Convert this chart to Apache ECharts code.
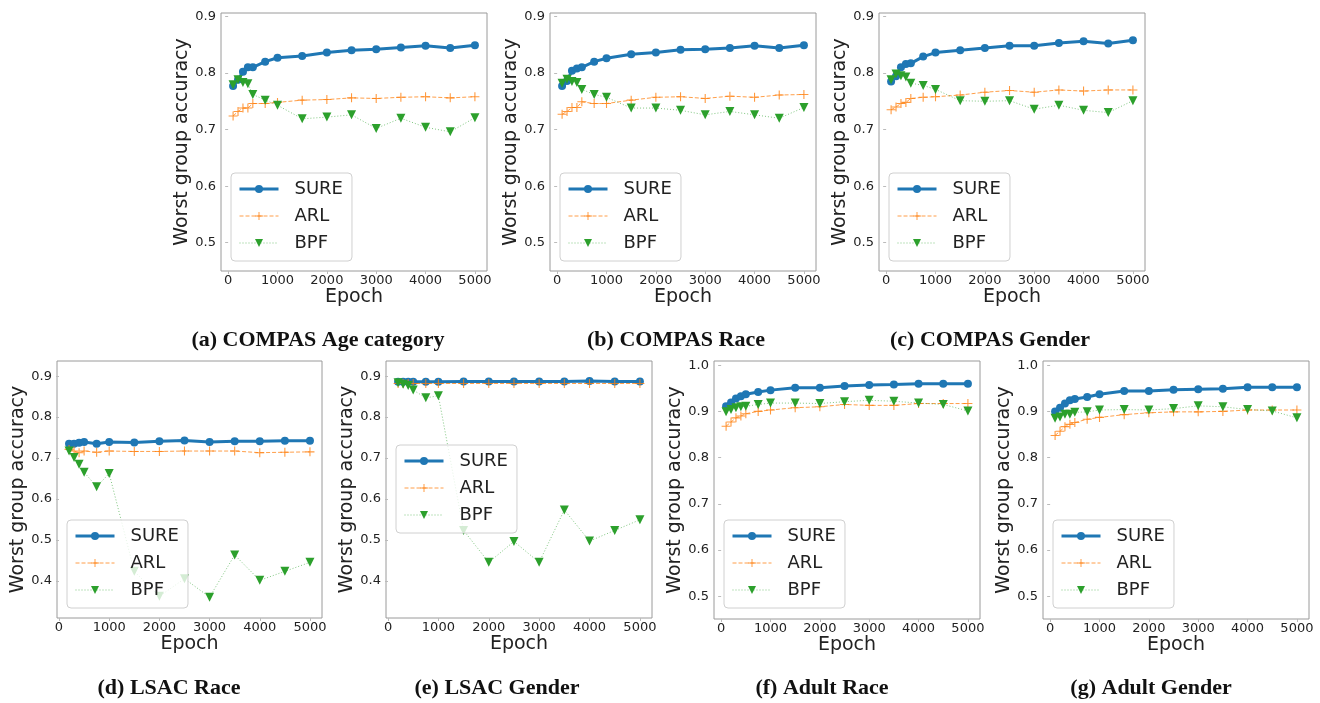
<!DOCTYPE html>
<html>
<head>
<meta charset="utf-8">
<script src="https://cdn.jsdelivr.net/npm/echarts@6/dist/echarts.min.js"></script>
<style>
  html, body { margin: 0; padding: 0; background: #fff; }
  #main { width: 1320px; height: 703px; }
</style>
</head>
<body>
<div id="main"></div>
<script>
// epochs
const epochsFrom100 = [100, 200, 300, 400, 500, 750, 1000, 1500, 2000, 2500, 3000, 3500, 4000, 4500, 5000];
const epochsFrom200 = [200, 300, 400, 500, 750, 1000, 1500, 2000, 2500, 3000, 3500, 4000, 4500, 5000];

// tick labels
const xTicks = [0, 1000, 2000, 3000, 4000, 5000];
const yTicksCompas = [0.5, 0.6, 0.7, 0.8, 0.9];
const yTicksLsac = [0.4, 0.5, 0.6, 0.7, 0.8, 0.9];
const yTicksAdult = [0.5, 0.6, 0.7, 0.8, 0.9, 1.0];

// (a) COMPAS Age category
const sureAge = [0.777, 0.788, 0.802, 0.810, 0.810, 0.820, 0.827, 0.830, 0.836, 0.840, 0.842, 0.845, 0.848, 0.844, 0.849];
const arlAge  = [0.724, 0.732, 0.738, 0.738, 0.746, 0.746, 0.748, 0.752, 0.753, 0.756, 0.755, 0.757, 0.758, 0.756, 0.758];
const bpfAge  = [0.779, 0.788, 0.783, 0.781, 0.762, 0.752, 0.743, 0.719, 0.722, 0.726, 0.702, 0.720, 0.704, 0.696, 0.721];

// (b) COMPAS Race
const sureRace = [0.777, 0.786, 0.804, 0.808, 0.810, 0.820, 0.826, 0.833, 0.836, 0.841, 0.842, 0.844, 0.848, 0.844, 0.849];
const arlRace  = [0.727, 0.732, 0.739, 0.739, 0.749, 0.746, 0.746, 0.752, 0.757, 0.758, 0.755, 0.759, 0.757, 0.761, 0.762];
const bpfRace  = [0.782, 0.789, 0.785, 0.783, 0.771, 0.762, 0.757, 0.738, 0.738, 0.734, 0.726, 0.732, 0.726, 0.720, 0.739];

// (c) COMPAS Gender
const sureGender = [0.785, 0.794, 0.810, 0.816, 0.817, 0.829, 0.836, 0.840, 0.844, 0.848, 0.848, 0.853, 0.856, 0.852, 0.858];
const arlGender  = [0.735, 0.740, 0.746, 0.748, 0.755, 0.757, 0.758, 0.761, 0.766, 0.769, 0.766, 0.770, 0.768, 0.770, 0.770];
const bpfGender  = [0.788, 0.798, 0.795, 0.793, 0.782, 0.778, 0.771, 0.751, 0.750, 0.751, 0.736, 0.743, 0.734, 0.730, 0.751];

// (d) LSAC Race
const sureLsacRace = [0.735, 0.735, 0.737, 0.739, 0.735, 0.739, 0.738, 0.741, 0.743, 0.739, 0.741, 0.741, 0.742, 0.742];
const arlLsacRace  = [0.721, 0.717, 0.713, 0.717, 0.714, 0.717, 0.716, 0.716, 0.717, 0.717, 0.717, 0.713, 0.714, 0.715];
const bpfLsacRace  = [0.717, 0.701, 0.685, 0.665, 0.630, 0.662, 0.423, 0.362, 0.405, 0.360, 0.463, 0.401, 0.423, 0.445];

// (e) LSAC Gender
const sureLsacGender = [0.886, 0.886, 0.886, 0.886, 0.886, 0.886, 0.887, 0.887, 0.887, 0.887, 0.887, 0.888, 0.887, 0.887];
const arlLsacGender  = [0.882, 0.882, 0.882, 0.882, 0.882, 0.882, 0.882, 0.882, 0.882, 0.882, 0.882, 0.882, 0.882, 0.882];
const bpfLsacGender  = [0.884, 0.880, 0.877, 0.866, 0.847, 0.852, 0.523, 0.445, 0.496, 0.445, 0.573, 0.497, 0.523, 0.549];

// (f) Adult Race
const sureAdultRace = [0.911, 0.919, 0.928, 0.933, 0.937, 0.942, 0.946, 0.951, 0.951, 0.955, 0.957, 0.958, 0.960, 0.960, 0.960];
const arlAdultRace  = [0.868, 0.877, 0.886, 0.890, 0.895, 0.900, 0.903, 0.908, 0.910, 0.915, 0.913, 0.913, 0.917, 0.917, 0.917];
const bpfAdultRace  = [0.899, 0.904, 0.908, 0.910, 0.911, 0.915, 0.918, 0.918, 0.917, 0.921, 0.924, 0.922, 0.918, 0.915, 0.901];

// (g) Adult Gender
const sureAdultGender = [0.900, 0.908, 0.917, 0.924, 0.927, 0.931, 0.937, 0.944, 0.944, 0.947, 0.948, 0.949, 0.952, 0.952, 0.952];
const arlAdultGender  = [0.848, 0.857, 0.867, 0.872, 0.876, 0.883, 0.887, 0.893, 0.897, 0.899, 0.899, 0.900, 0.903, 0.903, 0.903];
const bpfAdultGender  = [0.885, 0.888, 0.894, 0.894, 0.898, 0.899, 0.903, 0.904, 0.903, 0.906, 0.912, 0.910, 0.904, 0.901, 0.886];

// layout of each subplot: plot box [left, top, right, bottom], legend corner, caption centre
const panels = [
  { box: [221, 13, 487, 271], x: epochsFrom100, sure: sureAge, arl: arlAge, bpf: bpfAge,
    y: [0.45, 0.906], yTicks: yTicksCompas, legend: [231, 173], caption: '(a) COMPAS Age category', cap: [318, 340] },
  { box: [550, 13, 816, 271], x: epochsFrom100, sure: sureRace, arl: arlRace, bpf: bpfRace,
    y: [0.45, 0.906], yTicks: yTicksCompas, legend: [560, 173], caption: '(b) COMPAS Race', cap: [676, 340] },
  { box: [879, 13, 1145, 271], x: epochsFrom100, sure: sureGender, arl: arlGender, bpf: bpfGender,
    y: [0.45, 0.906], yTicks: yTicksCompas, legend: [889, 173], caption: '(c) COMPAS Gender', cap: [990, 340] },
  { box: [57, 361, 322, 618], x: epochsFrom200, sure: sureLsacRace, arl: arlLsacRace, bpf: bpfLsacRace,
    y: [0.309, 0.937], yTicks: yTicksLsac, legend: [67, 520], caption: '(d) LSAC Race', cap: [169, 688] },
  { box: [386, 361, 652, 618], x: epochsFrom200, sure: sureLsacGender, arl: arlLsacGender, bpf: bpfLsacGender,
    y: [0.309, 0.937], yTicks: yTicksLsac, legend: [396, 445], caption: '(e) LSAC Gender', cap: [497, 688] },
  { box: [714, 361, 980, 619], x: epochsFrom100, sure: sureAdultRace, arl: arlAdultRace, bpf: bpfAdultRace,
    y: [0.451, 1.009], yTicks: yTicksAdult, legend: [724, 520], caption: '(f) Adult Race', cap: [822, 688] },
  { box: [1043, 361, 1309, 619], x: epochsFrom100, sure: sureAdultGender, arl: arlAdultGender, bpf: bpfAdultGender,
    y: [0.451, 1.009], yTicks: yTicksAdult, legend: [1053, 520], caption: '(g) Adult Gender', cap: [1151, 688] }
];

const FONT = 'DejaVu Sans';
const BLUE = '#1f77b4', ORANGE = '#ff7f0e', GREEN = '#2ca02c';
const SPINE = '#9a9a9a';
const PLUS = 'path://M4.4,0H5.6V4.4H10V5.6H5.6V10H4.4V5.6H0V4.4H4.4Z';
const VTRI = 'path://M0,0L10,0L5,9Z';

const zip = (xs, ys) => xs.map((x, i) => [x, ys[i]]);

const grid = [], xAxis = [], yAxis = [], series = [], legend = [], graphic = [];

panels.forEach((p, i) => {
  const [l, t, r, b] = p.box;
  grid.push({
    left: l, top: t, width: r - l, height: b - t,
    show: true, borderColor: SPINE, borderWidth: 1, backgroundColor: 'transparent',
    containLabel: false, outerBoundsMode: 'none'
  });

  // matplotlib-like 5% margins on x
  const span = p.x[p.x.length - 1] - p.x[0];
  xAxis.push({
    type: 'value', gridIndex: i,
    min: p.x[0] - 0.05 * span, max: p.x[p.x.length - 1] + 0.05 * span,
    name: 'Epoch', nameLocation: 'middle', nameGap: 16,
    nameTextStyle: { fontFamily: FONT, fontSize: 19, color: '#222' },
    axisLine: { show: false },
    axisTick: { show: true, length: 3, lineStyle: { color: '#bbb' }, customValues: xTicks },
    axisLabel: { fontFamily: FONT, fontSize: 13, color: '#222', margin: 3, customValues: xTicks,
                 formatter: v => String(v) },
    splitLine: { show: false }
  });
  yAxis.push({
    type: 'value', gridIndex: i, min: p.y[0], max: p.y[1],
    name: 'Worst group accuracy', nameLocation: 'middle', nameGap: 28,
    nameTextStyle: { fontFamily: FONT, fontSize: 19, color: '#222' },
    axisLine: { show: false },
    axisTick: { show: true, length: 3, lineStyle: { color: '#bbb' }, customValues: p.yTicks },
    axisLabel: { fontFamily: FONT, fontSize: 13, color: '#222', margin: 5, customValues: p.yTicks,
                 formatter: v => v.toFixed(1) },
    splitLine: { show: false }
  });

  series.push({
    name: 'SURE', type: 'line', xAxisIndex: i, yAxisIndex: i, data: zip(p.x, p.sure),
    symbol: 'circle', symbolSize: 8, showAllSymbol: true,
    lineStyle: { color: BLUE, width: 3 }, itemStyle: { color: BLUE }, z: 2
  });
  series.push({
    name: 'ARL', type: 'line', xAxisIndex: i, yAxisIndex: i, data: zip(p.x, p.arl),
    symbol: PLUS, symbolSize: 9, showAllSymbol: true,
    lineStyle: { color: ORANGE, width: 1, type: [4, 2], opacity: 0.75 },
    itemStyle: { color: ORANGE, opacity: 0.8 }, z: 2
  });
  series.push({
    name: 'BPF', type: 'line', xAxisIndex: i, yAxisIndex: i, data: zip(p.x, p.bpf),
    symbol: VTRI, symbolSize: 9, showAllSymbol: true,
    lineStyle: { color: GREEN, width: 1, type: [1, 2], opacity: 0.6 },
    itemStyle: { color: GREEN }, z: 2
  });

  // legend sits above the lines, semi-transparent like matplotlib's frame
  legend.push({
    orient: 'vertical', left: p.legend[0], top: p.legend[1], z: 10,
    itemWidth: 39, itemHeight: 10, itemGap: 7,
    padding: [6, 9, 8, 7],
    borderColor: '#d0d0d0', borderWidth: 1, borderRadius: 4,
    backgroundColor: 'rgba(255,255,255,0.8)',
    selectedMode: false,
    textStyle: { fontFamily: FONT, fontSize: 18, color: '#222', lineHeight: 20, padding: [0, 0, 0, 11] },
    data: [
      { name: 'SURE', lineStyle: { width: 3 } },
      { name: 'ARL', lineStyle: { width: 1 } },
      { name: 'BPF', lineStyle: { width: 1 } }
    ]
  });

  graphic.push({
    type: 'text', x: p.cap[0], y: p.cap[1],
    style: {
      text: p.caption, fontFamily: 'Liberation Serif', fontWeight: 'bold', fontSize: 22,
      fill: '#111', align: 'center', verticalAlign: 'middle'
    }
  });
});

const chart = echarts.init(document.getElementById('main'));
chart.setOption({
  animation: false,
  backgroundColor: '#fff',
  grid, xAxis, yAxis, series, legend, graphic
});
</script>
</body>
</html>
